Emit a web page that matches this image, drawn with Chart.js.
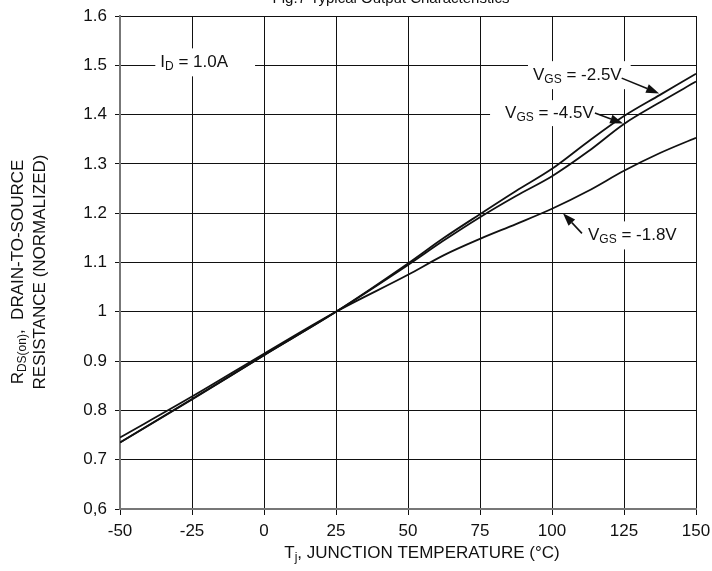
<!DOCTYPE html>
<html>
<head>
<meta charset="utf-8">
<title>Normalized On-Resistance vs Junction Temperature</title>
<script src="https://cdn.jsdelivr.net/npm/chart.js@4/dist/chart.umd.min.js"></script>
<style>
    html, body { margin: 0; padding: 0; background: #fff; }
    #wrap { width: 712px; height: 571px; }
</style>
</head>
<body>
<div id="wrap"><canvas id="chart" width="712" height="571"></canvas></div>
<script>
// Data
const temps = [-50, -25, 0, 25, 50, 62.5, 75, 87.5, 100, 112.5, 125, 137.5, 150];
const vgs25 = [0.735, 0.822, 0.912, 1.0, 1.098, 1.150, 1.198, 1.245, 1.290, 1.345, 1.397, 1.440, 1.483];
const vgs45 = [0.735, 0.823, 0.912, 1.0, 1.095, 1.145, 1.192, 1.235, 1.275, 1.325, 1.381, 1.425, 1.467];
const vgs18 = [0.745, 0.828, 0.915, 1.0, 1.075, 1.115, 1.148, 1.178, 1.209, 1.245, 1.286, 1.322, 1.353];

// Axis ticks
const xTicks = [-50, -25, 0, 25, 50, 75, 100, 125, 150];
const yTicks = [0.6, 0.7, 0.8, 0.9, 1.0, 1.1, 1.2, 1.3, 1.4, 1.5, 1.6];
const yTickLabels = ['0,6', '0.7', '0.8', '0.9', '1', '1.1', '1.2', '1.3', '1.4', '1.5', '1.6'];

const FONT = 'Liberation Sans, Arial, Helvetica, sans-serif';
const INK = '#111';

document.addEventListener('DOMContentLoaded', () => {

    // Callout labels (data coordinates), with the white gap they cut in the grid
    const callouts = [
        { parts: [['I', 0], ['D', 1], [' = 1.0A', 0]], x: -36, y: 1.506, padL: 5, padR: 27, half: 14 },
        { parts: [['V', 0], ['GS', 1], [' = -2.5V', 0]], x: 93.4, y: 1.480, padL: 5, padR: 9, half: 14 },
        { parts: [['V', 0], ['GS', 1], [' = -4.5V', 0]], x: 83.7, y: 1.403, padL: 15, padR: 5, half: 13 },
        { parts: [['V', 0], ['GS', 1], [' = -1.8V', 0]], x: 112.5, y: 1.155, padL: 3, padR: 5, half: 14 }
    ];

    // Arrows: from tail to tip, data coordinates
    const arrows = [
        { x1: 124.2, y1: 1.474, x2: 137.2, y2: 1.443 },
        { x1: 114.9, y1: 1.403, x2: 124.7, y2: 1.382 },
        { x1: 110.4, y1: 1.159, x2: 103.8, y2: 1.200 }
    ];

    /**
     * Measure a run of text pieces where some are subscripts
     */
    function measureParts(ctx, parts, size) {
        let w = 0;
        parts.forEach(([t, sub]) => {
            ctx.font = (sub ? Math.round(size * 0.68) : size) + 'px ' + FONT;
            w += ctx.measureText(t).width;
        });
        return w;
    }

    /**
     * Draw text pieces left to right, subscripts smaller and lowered
     */
    function drawParts(ctx, parts, x, y, size) {
        ctx.textBaseline = 'middle';
        ctx.textAlign = 'left';
        ctx.fillStyle = INK;
        parts.forEach(([t, sub]) => {
            const s = sub ? Math.round(size * 0.68) : size;
            ctx.font = s + 'px ' + FONT;
            ctx.fillText(t, x, sub ? y + size * 0.28 : y);
            x += ctx.measureText(t).width;
        });
    }

    function drawArrow(ctx, x1, y1, x2, y2) {
        const ang = Math.atan2(y2 - y1, x2 - x1);
        const len = 13, wid = 4.5;
        const bx = x2 - len * Math.cos(ang), by = y2 - len * Math.sin(ang);
        ctx.strokeStyle = INK;
        ctx.lineWidth = 1.6;
        ctx.beginPath();
        ctx.moveTo(x1, y1);
        ctx.lineTo(bx, by);
        ctx.stroke();
        ctx.fillStyle = INK;
        ctx.beginPath();
        ctx.moveTo(x2, y2);
        ctx.lineTo(bx + wid * Math.sin(ang), by - wid * Math.cos(ang));
        ctx.lineTo(bx - wid * Math.sin(ang), by + wid * Math.cos(ang));
        ctx.closePath();
        ctx.fill();
    }

    const calloutPlugin = {
        id: 'callouts',
        beforeDatasetsDraw(chart) {
            const { ctx, scales: { x, y } } = chart;
            ctx.save();
            ctx.fillStyle = '#fff';
            callouts.forEach(c => {
                const px = x.getPixelForValue(c.x);
                const py = y.getPixelForValue(c.y);
                const w = measureParts(ctx, c.parts, 17);
                ctx.fillRect(px - c.padL, py - c.half, w + c.padL + c.padR, c.half * 2);
            });
            ctx.restore();
        },
        afterDatasetsDraw(chart) {
            const { ctx, scales: { x, y } } = chart;
            ctx.save();
            callouts.forEach(c => {
                drawParts(ctx, c.parts, x.getPixelForValue(c.x), y.getPixelForValue(c.y), 17);
            });
            arrows.forEach(a => {
                drawArrow(ctx, x.getPixelForValue(a.x1), y.getPixelForValue(a.y1),
                    x.getPixelForValue(a.x2), y.getPixelForValue(a.y2));
            });
            ctx.restore();
        },
        afterDraw(chart) {
            const ctx = chart.ctx;
            ctx.save();

            // Figure caption, mostly cut off by the top edge
            ctx.font = '15px ' + FONT;
            ctx.fillStyle = INK;
            ctx.textAlign = 'center';
            ctx.textBaseline = 'alphabetic';
            ctx.fillText('Fig.7 Typical Output Characteristics', 391, 3);

            // X axis title
            const xt = [['T', 0], ['j', 1], [', JUNCTION TEMPERATURE (°C)', 0]];
            const xw = measureParts(ctx, xt, 17);
            drawParts(ctx, xt, 422 - xw / 2, 553, 17);

            // Y axis title, two rotated lines
            ctx.translate(0, 272);
            ctx.rotate(-Math.PI / 2);
            const l1 = [['R', 0], ['DS(on)', 1], [',  DRAIN-TO-SOURCE', 0]];
            const l2 = [['RESISTANCE (NORMALIZED)', 0]];
            drawParts(ctx, l1, -measureParts(ctx, l1, 17) / 2, 18, 17);
            drawParts(ctx, l2, -measureParts(ctx, l2, 17) / 2, 40, 17);
            ctx.restore();
        }
    };

    function series(values) {
        return {
            data: temps.map((t, i) => ({ x: t, y: values[i] })),
            borderColor: INK,
            borderWidth: 1.8,
            pointRadius: 0,
            cubicInterpolationMode: 'monotone',
            fill: false
        };
    }

    new Chart(document.getElementById('chart'), {
        type: 'line',
        data: {
            datasets: [series(vgs25), series(vgs45), series(vgs18)]
        },
        options: {
            responsive: false,
            animation: false,
            layout: { padding: { top: 16, right: 16, left: 0, bottom: 0 } },
            plugins: {
                legend: { display: false },
                tooltip: { enabled: false }
            },
            scales: {
                x: {
                    type: 'linear',
                    min: -50,
                    max: 150,
                    afterBuildTicks: scale => { scale.ticks = xTicks.map(v => ({ value: v })); },
                    afterFit: scale => {
                        scale.height = 62;
                        scale.paddingLeft = 0;
                        scale.paddingRight = 0;
                    },
                    ticks: {
                        color: INK,
                        font: { family: FONT, size: 17 },
                        padding: 6,
                        maxRotation: 0,
                        autoSkip: false
                    },
                    grid: { color: INK, lineWidth: 1, tickLength: 6, tickColor: INK },
                    border: { color: '#777', width: 2 }
                },
                y: {
                    type: 'linear',
                    min: 0.6,
                    max: 1.6,
                    afterBuildTicks: scale => { scale.ticks = yTicks.map(v => ({ value: v })); },
                    afterFit: scale => {
                        scale.width = 120;
                        scale.paddingTop = 0;
                        scale.paddingBottom = 0;
                    },
                    ticks: {
                        color: INK,
                        font: { family: FONT, size: 17 },
                        padding: 8,
                        autoSkip: false,
                        callback: (value, index) => yTickLabels[index]
                    },
                    grid: { color: INK, lineWidth: 1, tickLength: 5, tickColor: INK },
                    border: { color: '#777', width: 2 }
                }
            }
        },
        plugins: [calloutPlugin]
    });
});
</script>
</body>
</html>
